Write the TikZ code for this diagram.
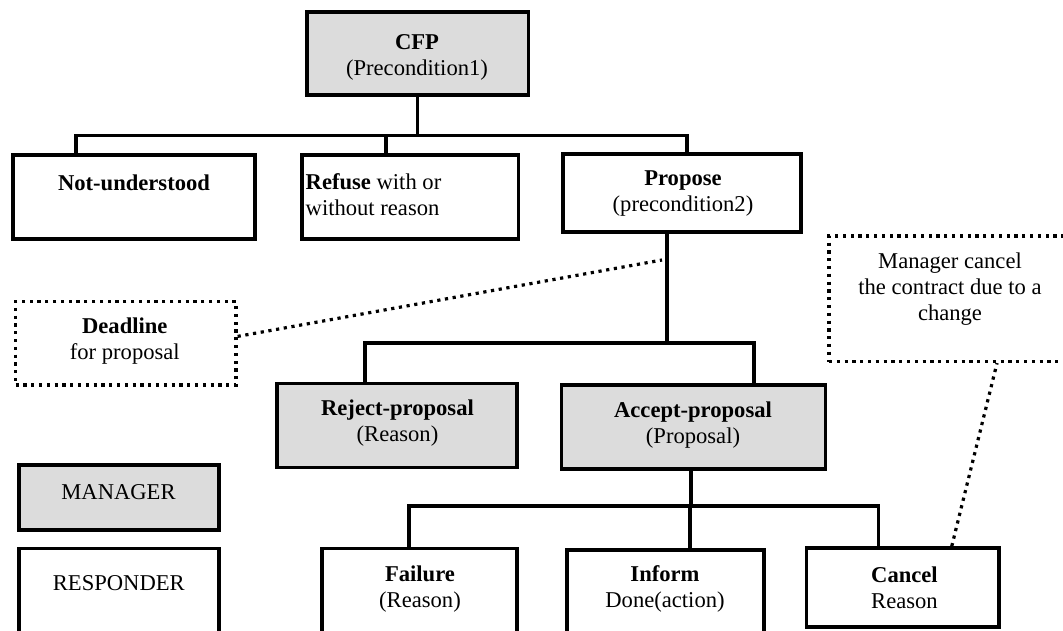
\documentclass[tikz,border=0pt]{standalone}
\usepackage{fontspec}
\setmainfont{Liberation Serif}
\definecolor{mgrfill}{RGB}{220,220,220}
\tikzset{
  box/.style={draw=black, line width=3.6pt, rectangle, inner sep=0pt, fill=white},
  mgr/.style={box, fill=mgrfill},
  note/.style={draw=black, line width=3.2pt, dash pattern=on 3.2pt off 4.6pt, rectangle, inner sep=0pt},
  txt/.style={font=\fontsize{22.6pt}{26pt}\selectfont, align=center, inner sep=0pt},
  conn/.style={draw=black, line width=3.4pt},
  dotline/.style={draw=black, line width=3.2pt, dash pattern=on 3.2pt off 4.6pt},
}
\begin{document}
\begin{tikzpicture}[x=1pt, y=-1pt]
\useasboundingbox (0,0) rectangle (1063,630);
\clip (0,0) rectangle (1063,630);
\fill[white] (0,0) rectangle (1063,630);

% boxes
\node[mgr, minimum width=221.6pt, minimum height=83.3pt] (cfp) at (417.5,53.4) {};
\node[box, minimum width=242.3pt, minimum height=84pt] (nu) at (133.9,197) {};
\node[box, minimum width=216.6pt, minimum height=84pt] (rf) at (410,197) {};
\node[box, minimum width=238pt, minimum height=78pt] (pp) at (682,193) {};
\node[note, minimum width=220.5pt, minimum height=83.3pt] (dl) at (125.8,343.4) {};
\node[note, minimum width=246pt, minimum height=125.5pt] (mc) at (952,298.75) {};
\node[mgr, minimum width=240pt, minimum height=84.2pt] (rj) at (396.7,425.4) {};
\node[mgr, minimum width=263.8pt, minimum height=84pt] (ac) at (693.5,427) {};
\node[mgr, minimum width=199.8pt, minimum height=65pt] (mg) at (118.8,497.5) {};
\node[box, minimum width=199.8pt, minimum height=100pt] (rs) at (118.8,598.3) {};
\node[box, minimum width=195pt, minimum height=100pt] (fl) at (419.5,598.5) {};
\node[box, minimum width=197pt, minimum height=100pt] (inf) at (665.5,600) {};
\node[box, minimum width=192.5pt, minimum height=78.7pt] (cn) at (902.75,587.35) {};

% texts
\node[txt] (cfp-t) at (417,57) {\textbf{CFP}\\(Precondition1)};
\node[txt] (nu-t) at (134,183) {\textbf{Not-understood}};
\node[txt, align=left, anchor=west] (rf-t) at (305.5,195) {\textbf{Refuse} with or\\without reason};
\node[txt] (pp-t) at (683,194) {\textbf{Propose}\\(precondition2)};
\node[txt] (dl-t) at (124.8,340.8) {\textbf{Deadline}\\for proposal};
\node[txt] (mc-t) at (950,289) {Manager cancel\\the contract due to a\\change};
\node[txt] (rj-t) at (397.5,423.3) {\textbf{Reject-proposal}\\(Reason)};
\node[txt] (ac-t) at (693,425) {\textbf{Accept-proposal}\\(Proposal)};
\node[txt] (mg-t) at (118.5,491.7) {MANAGER};
\node[txt] (rs-t) at (118.8,583.3) {RESPONDER};
\node[txt] (fl-t) at (420,589) {\textbf{Failure}\\(Reason)};
\node[txt] (inf-t) at (665,589) {\textbf{Inform}\\Done(action)};
\node[txt] (cn-t) at (904.5,587.5) {\textbf{Cancel}\\Reason};

% connection points on the boxes
\coordinate (nu-in) at ([xshift=-57.9pt]nu.north);
\coordinate (rf-in) at ([xshift=-24pt]rf.north);
\coordinate (pp-in) at ([xshift=5pt]pp.north);
\coordinate (pp-out) at ([xshift=-15pt]pp.south);
\coordinate (rj-in) at ([xshift=-31.7pt]rj.north);
\coordinate (ac-in) at ([xshift=60.5pt]ac.north);
\coordinate (ac-out) at ([xshift=-2.5pt]ac.south);
\coordinate (fl-in) at ([xshift=-10.5pt]fl.north);
\coordinate (inf-in) at ([xshift=24.5pt]inf.north);
\coordinate (cn-in) at ([xshift=-24.5pt]cn.north);
\coordinate (cn-note) at ([xshift=49pt]cn.north);
\coordinate (mc-in) at ([xshift=45pt]mc.south);
\coordinate (dl-out) at ([yshift=7pt]dl.east);
\coordinate (dl-end) at (662,260);

% bus levels
\coordinate (bus1) at (0,135.5);
\coordinate (bus2) at (0,343);
\coordinate (bus3) at (0,506);

% tree connectors
\draw[conn] (cfp.south) -- (cfp.south |- bus1);
\draw[conn] (nu-in) -- (nu-in |- bus1) -- (pp-in |- bus1) -- (pp-in);
\draw[conn] (rf-in) -- (rf-in |- bus1);

\draw[conn] (pp-out) -- (pp-out |- bus2);
\draw[conn] (rj-in) -- (rj-in |- bus2) -- (ac-in |- bus2) -- (ac-in);

\draw[conn] (ac-out) -- (ac-out |- bus3);
\draw[conn] (fl-in) -- (fl-in |- bus3) -- (cn-in |- bus3) -- (cn-in);
\draw[conn] (inf-in) -- (inf-in |- bus3);

% dotted annotations
\draw[dotline] (dl-out) -- (dl-end);
\draw[dotline] (cn-note) -- (mc-in);
\end{tikzpicture}
\end{document}
